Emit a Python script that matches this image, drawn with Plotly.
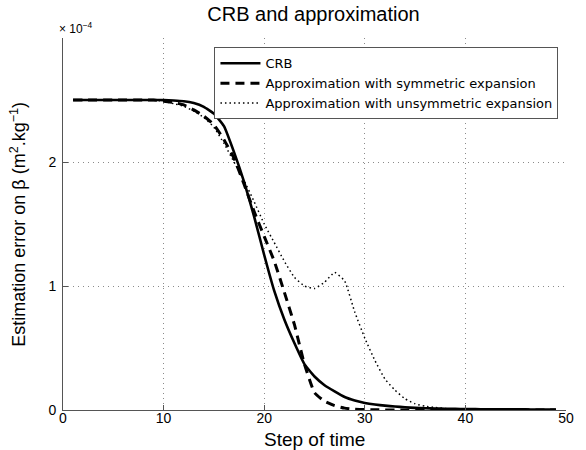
import plotly.graph_objects as go

steps = list(range(1, 50))

crb = [2.5]*9 + [2.499, 2.496, 2.49, 2.475, 2.445, 2.39, 2.29, 2.08, 1.84, 1.56, 1.25,
                 0.96, 0.73, 0.54, 0.37, 0.27, 0.2, 0.15, 0.105, 0.077, 0.057,
                 0.044, 0.035, 0.028, 0.022, 0.017, 0.014, 0.012, 0.01, 0.009, 0.008,
                 0.007, 0.006, 0.006, 0.005, 0.005, 0.005, 0.004, 0.004, 0.004, 0.004]

sym = [2.5]*9 + [2.49, 2.48, 2.46, 2.42, 2.37, 2.3, 2.18, 2.03, 1.82, 1.6, 1.4,
                 1.2, 0.95, 0.69, 0.37, 0.14, 0.07, 0.035, 0.015, 0.007, 0.003,
                 0.002, 0.001, 0.001, 0.001, 0.001, 0.001, 0.001, 0.001, 0.001, 0.001,
                 0.001, 0.001, 0.001, 0.001, 0.001, 0.001, 0.001, 0.001, 0.001, 0.001]

unsym = [2.5]*9 + [2.49, 2.47, 2.45, 2.41, 2.36, 2.28, 2.15, 2.0, 1.85, 1.68, 1.5,
                   1.35, 1.2, 1.07, 1.0, 0.98, 1.03, 1.11, 1.04, 0.79, 0.58,
                   0.4, 0.25, 0.16, 0.09, 0.05, 0.03, 0.02, 0.012, 0.007, 0.004,
                   0.003, 0.002, 0.002, 0.002, 0.002, 0.002, 0.002, 0.002, 0.002, 0.002]

names = ["CRB", "Approximation with symmetric expansion",
         "Approximation with unsymmetric expansion"]

x_ticks = [0, 10, 20, 30, 40, 50]
y_ticks = [0, 1, 2, 3]
y_ticktext = ["0", "1", "2", ""]

FONT = "Liberation Sans, Arial, Helvetica, sans-serif"
GRID = dict(showgrid=True, gridcolor="#8a8a8a", griddash="1px,4px", gridwidth=1,
            showline=True, linecolor="#555", linewidth=1,
            ticks="inside", ticklen=5, tickcolor="#555",
            zeroline=False, automargin=False, tickfont=dict(size=14, color="black"))

fig = go.Figure()
fig.add_trace(go.Scatter(x=steps, y=crb, name=names[0], mode="lines",
                         line=dict(color="black", width=2.6, dash="solid",
                                   shape="spline", smoothing=0.4)))
fig.add_trace(go.Scatter(x=steps, y=sym, name=names[1], mode="lines",
                         line=dict(color="black", width=3, dash="9px,6px",
                                   shape="spline", smoothing=0.4)))
fig.add_trace(go.Scatter(x=steps, y=unsym, name=names[2], mode="lines",
                         line=dict(color="black", width=1.5, dash="1.5px,3px",
                                   shape="spline", smoothing=0.4)))

fig.update_layout(
    width=586, height=450,
    margin=dict(l=63, r=20, t=38, b=40),
    paper_bgcolor="white", plot_bgcolor="white",
    font=dict(family=FONT, color="black", size=14),
    title=dict(text="CRB and approximation", x=0.535, xanchor="center",
               y=0.985, yanchor="top", font=dict(size=20)),
    showlegend=True,
    legend=dict(x=0.985, xanchor="right", y=0.975, yanchor="top",
                bgcolor="white", bordercolor="#555", borderwidth=1,
                font=dict(size=13, family="DejaVu Sans, sans-serif"),
                tracegroupgap=0, itemwidth=40, traceorder="normal"),
    xaxis=dict(range=[0, 50], tickvals=x_ticks, ticklabelstandoff=-5, **GRID),
    yaxis=dict(range=[0, 3], tickvals=y_ticks, ticktext=y_ticktext,
               ticklabelstandoff=3, **GRID),
)

fig.add_annotation(text="Step of time", xref="paper", yref="paper",
                   x=0.5, y=-0.08, xanchor="center", yanchor="middle",
                   showarrow=False, font=dict(size=19))
fig.add_annotation(text="Estimation error on β (m<sup>2</sup>.kg<sup>−1</sup>)",
                   xref="paper", yref="paper", x=-0.09, y=0.5,
                   xanchor="center", yanchor="middle", textangle=-90,
                   showarrow=False, font=dict(size=18))
fig.add_annotation(text="× 10<sup>−4</sup>", xref="paper", yref="paper",
                   x=-0.012, y=1.0, xanchor="left", yanchor="bottom",
                   showarrow=False, font=dict(size=12))

fig.write_html("out.html", config={"displayModeBar": False},
               post_script="document.body.style.margin='0';document.body.style.overflow='hidden';")
